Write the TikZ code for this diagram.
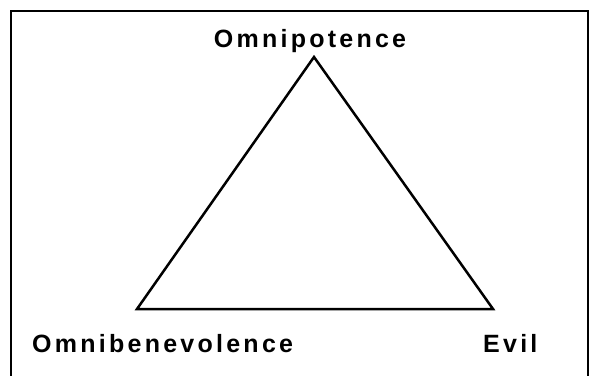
\documentclass[tikz,border=0pt]{standalone}
\usepackage{fontspec}
\setmainfont{Liberation Sans}
\newfontfamily\lblfont[LetterSpace=13]{Liberation Sans Bold}
\begin{document}
\begin{tikzpicture}[x=1pt,y=-1pt,
  lbl/.style={inner sep=0pt,font=\lblfont\fontsize{25}{29}\selectfont},
  edge/.style={line width=2.5pt,line join=miter}]
\useasboundingbox (0,0) rectangle (594,375);
\begin{scope}
\clip (0,0) rectangle (594,375);
\draw[line width=2.4pt] (11,11) rectangle (588,390);
\end{scope}
\coordinate (top) at (314,57);
\coordinate (bl) at (137,309);
\coordinate (br) at (493,309);
\draw[edge] (top) -- (bl) -- (br) -- cycle;
\node[lbl,anchor=base] (omnip) at (310,47.5) {Omnipotence};
\node[lbl,anchor=base west] (omnib) at (32,352) {Omnibenevolence};
\node[lbl,anchor=base west] (evil) at (483,352) {Evil};
\end{tikzpicture}
\end{document}
